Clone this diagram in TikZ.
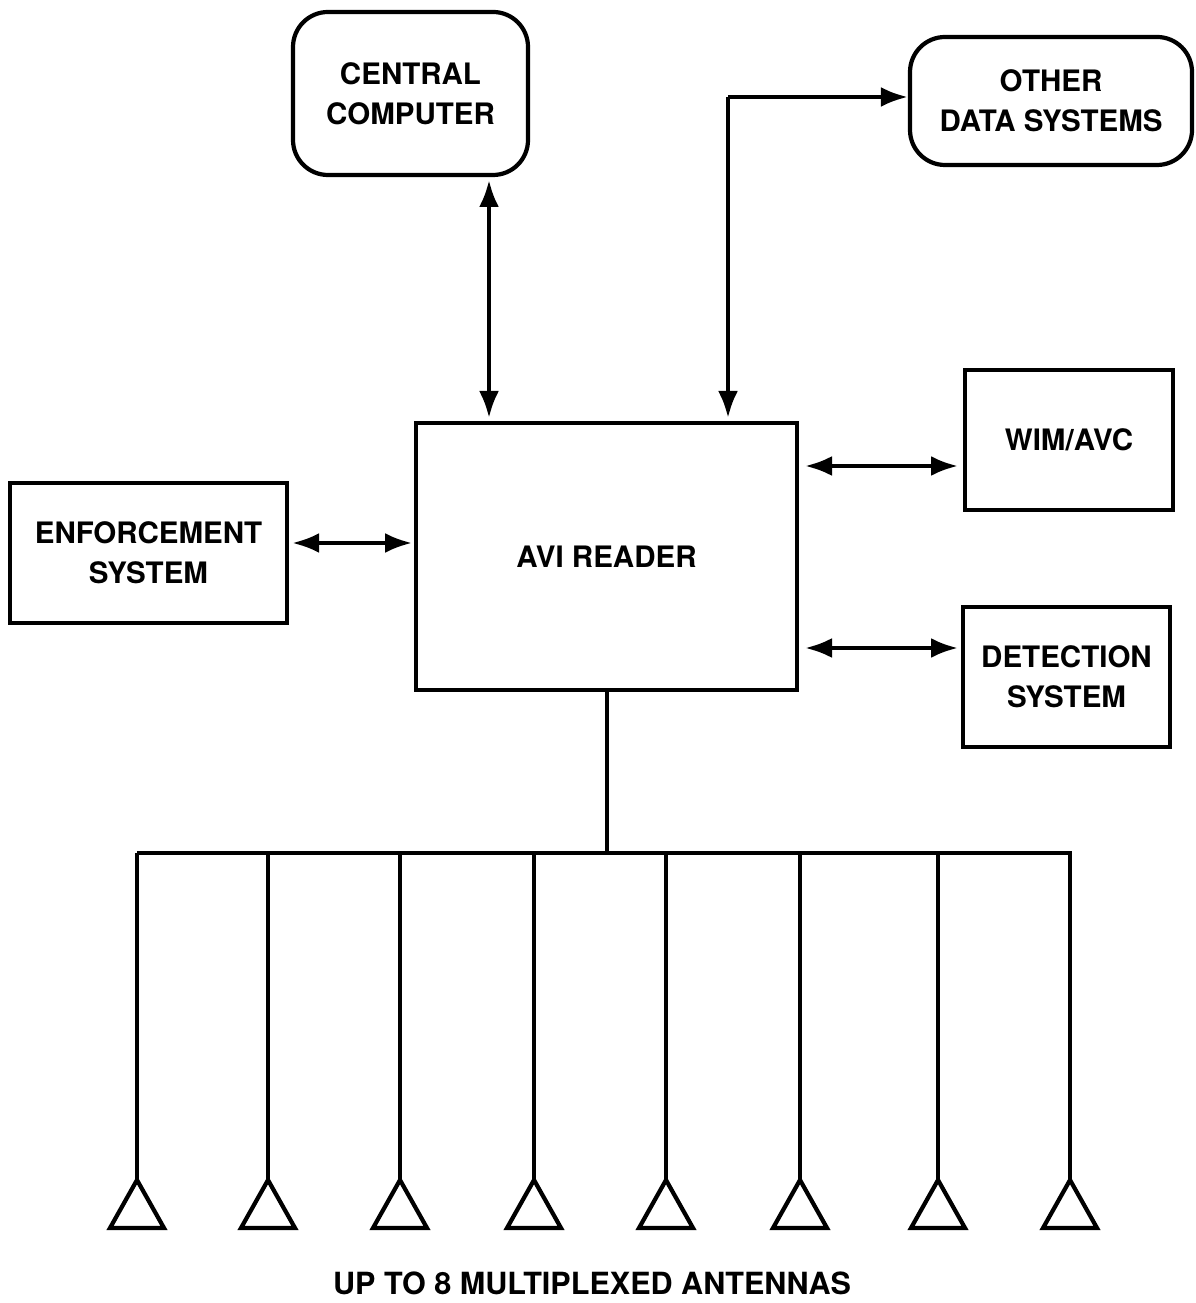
\documentclass[tikz,border=0pt]{standalone}
\usepackage{fontspec}
\setmainfont{TeX Gyre Heros}
\usetikzlibrary{arrows.meta}

\tikzset{
  blk/.style={draw, line width=1.2pt, align=center, font=\fontsize{8.4}{11.4}\selectfont\bfseries, inner sep=0pt},
  rblk/.style={blk, rounded corners=0.35cm},
  tip/.style={Latex[length=2.7mm,width=2.0mm]},
  link/.style={line width=1.2pt, {Latex[length=2.7mm,width=2.0mm]}-{Latex[length=2.7mm,width=2.0mm]}},
  wire/.style={line width=1.2pt}
}

\begin{document}
\begin{tikzpicture}
            \useasboundingbox (0,0) rectangle (11.95,-13.03);

            \node[rblk, minimum width=2.35cm, minimum height=1.63cm] (cc) at (4.105,-0.935) {CENTRAL\\COMPUTER};
            \node[rblk, minimum width=2.82cm, minimum height=1.28cm] (ods) at (10.51,-1.01) {OTHER\\DATA SYSTEMS};
            \node[blk, minimum width=3.81cm, minimum height=2.67cm] (avi) at (6.065,-5.565) {AVI READER};
            \node[blk, minimum width=2.08cm, minimum height=1.40cm] (wim) at (10.69,-4.40) {WIM/AVC};
            \node[blk, minimum width=2.77cm, minimum height=1.40cm] (enf) at (1.485,-5.53) {ENFORCEMENT\\SYSTEM};
            \node[blk, minimum width=2.07cm, minimum height=1.40cm] (det) at (10.665,-6.77) {DETECTION\\SYSTEM};

            \draw[link] (4.89,-1.80) -- (4.89,-4.18);
            \coordinate (bend) at (7.28,-0.97);
            \draw[wire, -{Latex[length=2.7mm,width=2.0mm]}] (bend) -- (7.28,-4.18);
            \draw[wire, -{Latex[length=2.7mm,width=2.0mm]}] (bend) -- (bend -| ods.west);
            \draw[link] (enf.east) ++(0.03,0.10) -- ++(1.20,0);
            \draw[link] (8.05,-4.66) -- (9.58,-4.66);
            \draw[link] (8.05,-6.48) -- (9.58,-6.48);

            % bus to the antennas
            \coordinate (bus) at (6.07,-8.53);
            \draw[wire] (avi.south -| bus) -- (bus);
            \draw[wire] (1.37,-8.53) -- (10.72,-8.53);
            \foreach \x [count=\i] in {1.37,2.68,4.00,5.34,6.66,8.00,9.38,10.70} {
                \coordinate (ant\i) at (\x,-11.80);
                \draw[wire] (\x,-8.53) -- (ant\i);
                \draw[wire, line join=miter] (ant\i) -- ++(-0.27,-0.48) -- ++(0.54,0) -- cycle;
            }

            \node[font=\fontsize{8.7}{11.4}\selectfont\bfseries] (cap) at (5.92,-12.83) {UP TO 8 MULTIPLEXED ANTENNAS};
        \end{tikzpicture}
\end{document}
